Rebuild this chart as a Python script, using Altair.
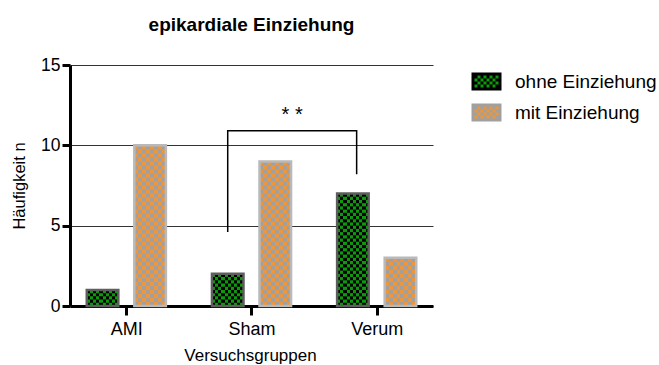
import json

import altair as alt
import pandas as pd

# ---- data -------------------------------------------------------------
groups = ["AMI", "Sham", "Verum"]
series = ["ohne Einziehung", "mit Einziehung"]
ohne = [1, 2, 7]
mit = [10, 9, 3]
y_ticks = [0, 5, 10, 15]

# significance bracket Sham -> Verum, in data units
bracket_x = [0.81, 0.81, 1.84, 1.84]
bracket_y = [4.6, 10.9, 10.9, 8.2]
star_text = "* *"
star_x = [1.325]
star_y = [11.5]

rows = []
for i, g in enumerate(groups):
    rows.append({"group": g, "gi": i, "series": series[0], "value": ohne[i]})
    rows.append({"group": g, "gi": i, "series": series[1], "value": mit[i]})
df = pd.DataFrame(rows)

bracket_df = pd.DataFrame({"bx": bracket_x, "by": bracket_y, "i": list(range(len(bracket_x)))})
star_df = pd.DataFrame({"sx": star_x, "sy": star_y})

# ---- style ------------------------------------------------------------
FONT = "Liberation Sans"
GREEN = "#0c9a0c"
BLACK = "#000000"
ORANGE = "#f0963a"
GREY = "#a0a0a0"
GREEN_EDGE = "#5e5e5e"
ORANGE_EDGE = "#b9b9b9"
OFFSET = 0.19   # bar centre offset from group centre
HALF = 0.126    # half bar width

x_scale = alt.Scale(domain=[-0.45, 2.45], nice=False, zero=False)
y_scale = alt.Scale(domain=[0, 15], nice=False, zero=True)

x_axis = alt.Axis(
    values=list(range(len(groups))),
    labelExpr=f"{json.dumps(groups)}[datum.value]",
    title="Versuchsgruppen", grid=False,
    domainColor="black", domainWidth=3,
    tickColor="black", tickWidth=3, tickSize=9,
    labelFont=FONT, labelFontSize=18, labelColor="black", labelPadding=5,
    titleFont=FONT, titleFontSize=17, titleFontWeight="normal", titleColor="black",
    titleBaseline="alphabetic", titleX=180, titleY=54,
)
y_axis = alt.Axis(
    values=y_ticks, title="Häufigkeit n",
    grid=True, gridColor="#333333", gridWidth=1,
    domainColor="black", domainWidth=3,
    tickColor="black", tickWidth=3, tickSize=8,
    labelFont=FONT, labelFontSize=17.5, labelColor="black", labelPadding=2,
    titleFont=FONT, titleFontSize=16.5, titleFontWeight="normal", titleColor="black",
    titleX=-43, titleY=120.5,
)


def X(f):
    return alt.X(f, scale=x_scale, axis=x_axis)


def Y(f):
    return alt.Y(f, scale=y_scale, axis=y_axis)


def stripes(c1, c2, n):
    """Horizontal gradient with n hard-edged vertical stripes."""
    stops = []
    for i in range(n):
        c = c1 if i % 2 == 0 else c2
        stops.append({"offset": round(i / n, 5), "color": c})
        stops.append({"offset": round((i + 1) / n, 5), "color": c})
    return {"gradient": "linear", "x1": 0, "y1": 0, "x2": 1, "y2": 0, "stops": stops}


def checker_layer(name, sign, rows_per_unit, cols, c_dark, c_light):
    """Bar filled with a checkerboard: one row of stripes per cell row."""
    off = sign * OFFSET
    return (
        alt.Chart(df)
        .transform_filter(alt.datum.series == name)
        .transform_calculate(k=f"sequence(0, ceil(datum.value * {rows_per_unit}))")
        .transform_flatten(["k"])
        .transform_calculate(
            y0=f"datum.k / {rows_per_unit}",
            y1=f"min((datum.k + 1) / {rows_per_unit} + 0.05, datum.value)",
            xa=f"datum.gi + ({off}) - {HALF}",
            xb=f"datum.gi + ({off}) + {HALF}",
        )
        .mark_rect(strokeWidth=0)
        .encode(
            x=X("xa:Q"), x2="xb:Q", y=Y("y0:Q"), y2="y1:Q",
            fill=alt.condition(
                "datum.k % 2 == 0",
                alt.value(stripes(c_dark, c_light, cols)),
                alt.value(stripes(c_light, c_dark, cols)),
            ),
        )
    )


green_bars = checker_layer(series[0], -1, 5, 10, BLACK, GREEN)
orange_bars = checker_layer(series[1], 1, 4, 8, GREY, ORANGE)

borders = (
    alt.Chart(df)
    .transform_calculate(
        xc=f"datum.gi + (datum.series === '{series[0]}' ? -{OFFSET} : {OFFSET})",
        base="0",
    )
    .transform_calculate(xa=f"datum.xc - {HALF}", xb=f"datum.xc + {HALF}")
    .mark_rect(fillOpacity=0, strokeWidth=2.5)
    .encode(
        x=X("xa:Q"), x2="xb:Q", y=Y("value:Q"), y2="base:Q",
        stroke=alt.condition(
            f"datum.series === '{series[0]}'", alt.value(GREEN_EDGE), alt.value(ORANGE_EDGE)
        ),
    )
)

bracket = (
    alt.Chart(bracket_df)
    .mark_line(color="black", strokeWidth=1.5)
    .encode(x=X("bx:Q"), y=Y("by:Q"), order="i:O")
)

stars = (
    alt.Chart(star_df)
    .mark_text(text=star_text, font=FONT, fontSize=20, color="black",
               align="center", baseline="alphabetic")
    .encode(x=X("sx:Q"), y=Y("sy:Q"))
)


# checkerboard swatch for the legend symbol (unit path, scaled by sqrt(size)/2)
def swatch_path(px=15.0):
    u = 1.0 / px
    f = lambda v: f"{v * u:.4f}"
    parts = [f"M{f(-13.5)},{f(-7.5)}H{f(13.5)}V{f(7.5)}H{f(-13.5)}Z"]
    for r in range(4):
        yc = -4.5 + 3 * r
        for c in range(8):
            if (r + c) % 2 == 0:
                x0 = -12 + 3 * c
                parts.append(f"M{f(x0)},{f(yc)}H{f(x0 + 3)}")
    return "".join(parts)


SWATCH = swatch_path()
leg = alt.Legend(
    title=None, orient="none", legendX=400, legendY=0, padding=0,
    symbolType=SWATCH, symbolSize=900, symbolStrokeWidth=3, symbolOpacity=1,
    symbolOffset=0, labelOffset=12, rowPadding=1,
    labelFont=FONT, labelFontSize=19, labelColor="black", labelLimit=200,
)
legend_layer = (
    alt.Chart(df)
    .transform_filter("false")
    .mark_point(shape=SWATCH, filled=True, opacity=1, size=900, strokeWidth=3)
    .encode(
        fill=alt.Fill("series:N", scale=alt.Scale(domain=series, range=[GREEN, ORANGE]), legend=leg),
        stroke=alt.Stroke("series:N", scale=alt.Scale(domain=series, range=[BLACK, GREY]), legend=leg),
    )
)

chart = (
    alt.layer(green_bars, orange_bars, borders, bracket, stars, legend_layer)
    .properties(
        width=363, height=241,
        autosize=alt.AutoSizeParams(type="none"),
        padding={"left": 70, "top": 65, "right": 226, "bottom": 59},
        title=alt.TitleParams(
            "epikardiale Einziehung", font=FONT, fontSize=19, fontWeight="bold",
            color="black", anchor="middle", frame="group", offset=21,
        ),
        background="white",
    )
    .configure_view(strokeWidth=0)
)

chart.save("out.html", embed_options={"renderer": "svg", "actions": False})
